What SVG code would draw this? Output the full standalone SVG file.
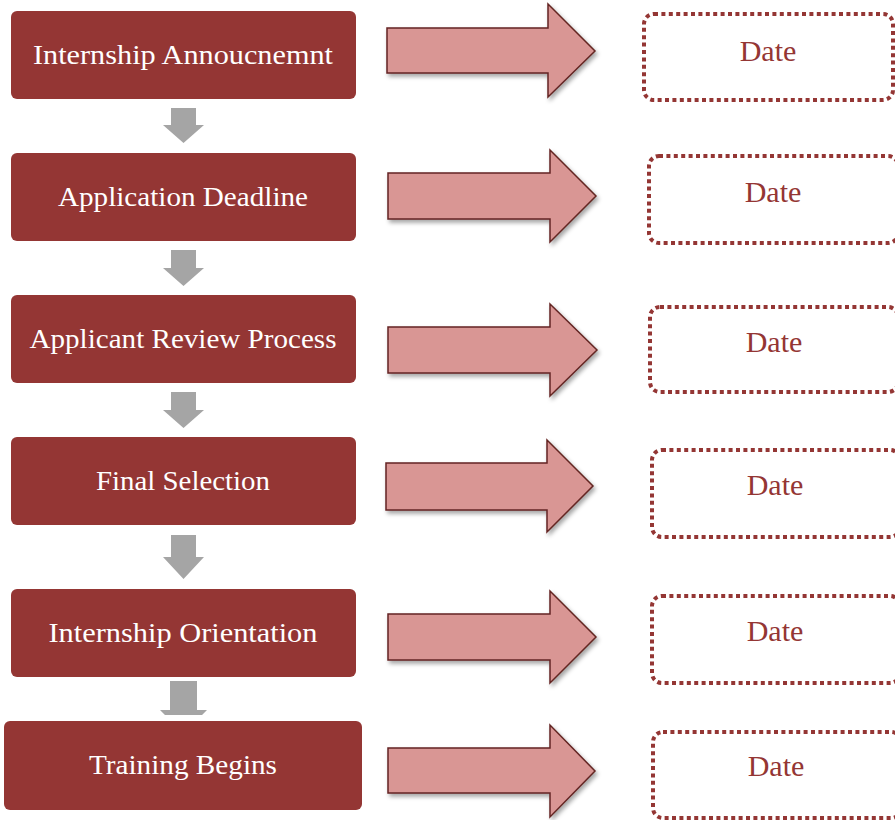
<svg xmlns="http://www.w3.org/2000/svg" width="895" height="820" viewBox="0 0 895 820">
  <defs>
    <filter id="soft-shadow" x="-10%" y="-10%" width="130%" height="140%">
      <feDropShadow dx="2" dy="3" stdDeviation="2" flood-color="#000" flood-opacity="0.35"/>
    </filter>
    <style>
      .step rect { fill: #943634; }
      .step text { fill: #FFFFFF; font-family: "Liberation Serif", "DejaVu Serif", serif; font-size: 27px; text-anchor: middle; }
      .date rect { fill: #FFFFFF; stroke: #943634; stroke-width: 4; stroke-dasharray: 4 3.4; }
      .date text { fill: #943634; font-family: "Liberation Serif", "Times New Roman", serif; font-size: 30px; text-anchor: middle; }
      .down { fill: #A5A5A5; }
      .right { fill: #D99694; stroke: #632523; stroke-width: 1.5; stroke-linejoin: miter; filter: url(#soft-shadow); }
    </style>
  </defs>

  <!-- process steps -->
  <g id="step-announcement" class="step">
    <rect x="11" y="11" width="345" height="88" rx="6"/>
    <text x="183" y="64" textLength="300" lengthAdjust="spacingAndGlyphs">Internship Annoucnemnt</text>
  </g>
  <g id="step-deadline" class="step">
    <rect x="11" y="153" width="345" height="88" rx="6"/>
    <text x="183" y="206" textLength="250" lengthAdjust="spacingAndGlyphs">Application Deadline</text>
  </g>
  <g id="step-review" class="step">
    <rect x="11" y="295" width="345" height="88" rx="6"/>
    <text x="183" y="348" textLength="307" lengthAdjust="spacingAndGlyphs">Applicant Review Process</text>
  </g>
  <g id="step-selection" class="step">
    <rect x="11" y="437" width="345" height="88" rx="6"/>
    <text x="183" y="490" textLength="174" lengthAdjust="spacingAndGlyphs">Final Selection</text>
  </g>
  <g id="step-orientation" class="step">
    <rect x="11" y="589" width="345" height="88" rx="6"/>
    <text x="183" y="642" textLength="269" lengthAdjust="spacingAndGlyphs">Internship Orientation</text>
  </g>
  <g id="step-training" class="step">
    <rect x="4" y="721" width="358" height="89" rx="6"/>
    <text x="183" y="774" textLength="188" lengthAdjust="spacingAndGlyphs">Training Begins</text>
  </g>

  <!-- date placeholders -->
  <g id="date-1" class="date">
    <rect x="644" y="14" width="249" height="86" rx="10"/>
    <text x="768" y="61">Date</text>
  </g>
  <g id="date-2" class="date">
    <rect x="649" y="156" width="249" height="87" rx="10"/>
    <text x="773" y="202">Date</text>
  </g>
  <g id="date-3" class="date">
    <rect x="650" y="307" width="248" height="85" rx="10"/>
    <text x="774" y="352">Date</text>
  </g>
  <g id="date-4" class="date">
    <rect x="652" y="450" width="248" height="87" rx="10"/>
    <text x="775" y="495">Date</text>
  </g>
  <g id="date-5" class="date">
    <rect x="652" y="596" width="248" height="87" rx="10"/>
    <text x="775" y="641">Date</text>
  </g>
  <g id="date-6" class="date">
    <rect x="653" y="732" width="248" height="86" rx="10"/>
    <text x="776" y="776">Date</text>
  </g>

  <!-- connectors -->
  <g id="connectors">
    <!-- step to step -->
    <polygon class="down" points="171,108 196,108 196,125 204,125 183.5,143 163,125 171,125"/>
    <polygon class="down" points="171,250 196,250 196,268 204,268 183.5,286 163,268 171,268"/>
    <polygon class="down" points="171,392 196,392 196,410 204,410 183.5,428 163,410 171,410"/>
    <polygon class="down" points="171,535 196,535 196,557 204,557 183.5,579 163,557 171,557"/>
    <polygon class="down" points="170,681 197,681 197,710 207,710 202,715 165,715 160,710 170,710"/>

    <!-- step to date -->
    <polygon class="right" points="387,28 548,28 548,4 595,51 548,97 548,73 387,73"/>
    <polygon class="right" points="388,173 550,173 550,150 596,196 550,242 550,219 388,219"/>
    <polygon class="right" points="388,327 550,327 550,304 597,350 550,396 550,373 388,373"/>
    <polygon class="right" points="386,463 547,463 547,440 593,486 547,532 547,510 386,510"/>
    <polygon class="right" points="388,614 550,614 550,591 596,637 550,683 550,660 388,660"/>
    <polygon class="right" points="388,748 550,748 550,725 595,771 550,817 550,793 388,793"/>
  </g>
</svg>
